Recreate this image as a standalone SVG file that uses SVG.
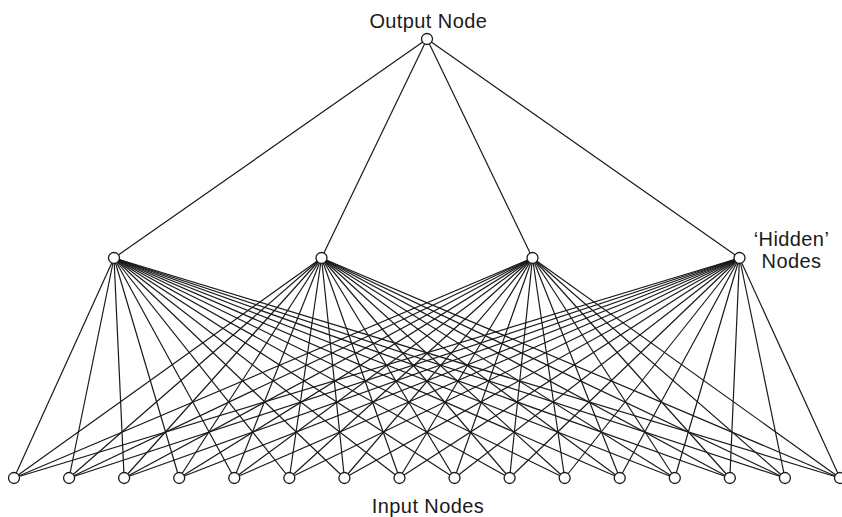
<svg xmlns="http://www.w3.org/2000/svg" width="842" height="517" viewBox="0 0 842 517">
  <style>
    .edge { stroke: #1a1a1a; stroke-width: 1.2; fill: none; }
    .node { fill: #ffffff; stroke: #1a1a1a; stroke-width: 1.3; }
    .label { font-family: "Liberation Sans", Arial, sans-serif; font-size: 20px; letter-spacing: 0.4px; fill: #1a1a1a; text-anchor: middle; }
  </style>
  <rect width="842" height="517" fill="#ffffff"/>

  <!-- connectors: output to hidden, hidden to every input -->
  <g id="connectors">
    <line class="edge" x1="427" y1="39" x2="114" y2="258"/>
    <line class="edge" x1="427" y1="39" x2="321.5" y2="258"/>
    <line class="edge" x1="427" y1="39" x2="532.5" y2="258"/>
    <line class="edge" x1="427" y1="39" x2="739.5" y2="258"/>

    <g id="from-h1">
      <line class="edge" x1="114" y1="258" x2="14" y2="478"/>
      <line class="edge" x1="114" y1="258" x2="69.07" y2="478"/>
      <line class="edge" x1="114" y1="258" x2="124.13" y2="478"/>
      <line class="edge" x1="114" y1="258" x2="179.2" y2="478"/>
      <line class="edge" x1="114" y1="258" x2="234.27" y2="478"/>
      <line class="edge" x1="114" y1="258" x2="289.33" y2="478"/>
      <line class="edge" x1="114" y1="258" x2="344.4" y2="478"/>
      <line class="edge" x1="114" y1="258" x2="399.47" y2="478"/>
      <line class="edge" x1="114" y1="258" x2="454.53" y2="478"/>
      <line class="edge" x1="114" y1="258" x2="509.6" y2="478"/>
      <line class="edge" x1="114" y1="258" x2="564.67" y2="478"/>
      <line class="edge" x1="114" y1="258" x2="619.73" y2="478"/>
      <line class="edge" x1="114" y1="258" x2="674.8" y2="478"/>
      <line class="edge" x1="114" y1="258" x2="729.87" y2="478"/>
      <line class="edge" x1="114" y1="258" x2="784.93" y2="478"/>
      <line class="edge" x1="114" y1="258" x2="840" y2="478"/>
    </g>
    <g id="from-h2">
      <line class="edge" x1="321.5" y1="258" x2="14" y2="478"/>
      <line class="edge" x1="321.5" y1="258" x2="69.07" y2="478"/>
      <line class="edge" x1="321.5" y1="258" x2="124.13" y2="478"/>
      <line class="edge" x1="321.5" y1="258" x2="179.2" y2="478"/>
      <line class="edge" x1="321.5" y1="258" x2="234.27" y2="478"/>
      <line class="edge" x1="321.5" y1="258" x2="289.33" y2="478"/>
      <line class="edge" x1="321.5" y1="258" x2="344.4" y2="478"/>
      <line class="edge" x1="321.5" y1="258" x2="399.47" y2="478"/>
      <line class="edge" x1="321.5" y1="258" x2="454.53" y2="478"/>
      <line class="edge" x1="321.5" y1="258" x2="509.6" y2="478"/>
      <line class="edge" x1="321.5" y1="258" x2="564.67" y2="478"/>
      <line class="edge" x1="321.5" y1="258" x2="619.73" y2="478"/>
      <line class="edge" x1="321.5" y1="258" x2="674.8" y2="478"/>
      <line class="edge" x1="321.5" y1="258" x2="729.87" y2="478"/>
      <line class="edge" x1="321.5" y1="258" x2="784.93" y2="478"/>
      <line class="edge" x1="321.5" y1="258" x2="840" y2="478"/>
    </g>
    <g id="from-h3">
      <line class="edge" x1="532.5" y1="258" x2="14" y2="478"/>
      <line class="edge" x1="532.5" y1="258" x2="69.07" y2="478"/>
      <line class="edge" x1="532.5" y1="258" x2="124.13" y2="478"/>
      <line class="edge" x1="532.5" y1="258" x2="179.2" y2="478"/>
      <line class="edge" x1="532.5" y1="258" x2="234.27" y2="478"/>
      <line class="edge" x1="532.5" y1="258" x2="289.33" y2="478"/>
      <line class="edge" x1="532.5" y1="258" x2="344.4" y2="478"/>
      <line class="edge" x1="532.5" y1="258" x2="399.47" y2="478"/>
      <line class="edge" x1="532.5" y1="258" x2="454.53" y2="478"/>
      <line class="edge" x1="532.5" y1="258" x2="509.6" y2="478"/>
      <line class="edge" x1="532.5" y1="258" x2="564.67" y2="478"/>
      <line class="edge" x1="532.5" y1="258" x2="619.73" y2="478"/>
      <line class="edge" x1="532.5" y1="258" x2="674.8" y2="478"/>
      <line class="edge" x1="532.5" y1="258" x2="729.87" y2="478"/>
      <line class="edge" x1="532.5" y1="258" x2="784.93" y2="478"/>
      <line class="edge" x1="532.5" y1="258" x2="840" y2="478"/>
    </g>
    <g id="from-h4">
      <line class="edge" x1="739.5" y1="258" x2="14" y2="478"/>
      <line class="edge" x1="739.5" y1="258" x2="69.07" y2="478"/>
      <line class="edge" x1="739.5" y1="258" x2="124.13" y2="478"/>
      <line class="edge" x1="739.5" y1="258" x2="179.2" y2="478"/>
      <line class="edge" x1="739.5" y1="258" x2="234.27" y2="478"/>
      <line class="edge" x1="739.5" y1="258" x2="289.33" y2="478"/>
      <line class="edge" x1="739.5" y1="258" x2="344.4" y2="478"/>
      <line class="edge" x1="739.5" y1="258" x2="399.47" y2="478"/>
      <line class="edge" x1="739.5" y1="258" x2="454.53" y2="478"/>
      <line class="edge" x1="739.5" y1="258" x2="509.6" y2="478"/>
      <line class="edge" x1="739.5" y1="258" x2="564.67" y2="478"/>
      <line class="edge" x1="739.5" y1="258" x2="619.73" y2="478"/>
      <line class="edge" x1="739.5" y1="258" x2="674.8" y2="478"/>
      <line class="edge" x1="739.5" y1="258" x2="729.87" y2="478"/>
      <line class="edge" x1="739.5" y1="258" x2="784.93" y2="478"/>
      <line class="edge" x1="739.5" y1="258" x2="840" y2="478"/>
    </g>
  </g>

  <!-- output layer -->
  <g id="output-node">
    <circle class="node" cx="427" cy="39" r="5.5"/>
    <text class="label" x="428.3" y="28.3">Output Node</text>
  </g>

  <!-- hidden layer -->
  <g id="hidden-1"><circle class="node" cx="114" cy="258" r="5.5"/></g>
  <g id="hidden-2"><circle class="node" cx="321.5" cy="258" r="5.5"/></g>
  <g id="hidden-3"><circle class="node" cx="532.5" cy="258" r="5.5"/></g>
  <g id="hidden-4">
    <circle class="node" cx="739.5" cy="258" r="5.5"/>
    <text class="label" x="791.5" y="246">‘Hidden’</text>
    <text class="label" x="791.5" y="268.3">Nodes</text>
  </g>

  <!-- input layer -->
  <g id="input-1"><circle class="node" cx="14" cy="478" r="5.5"/></g>
  <g id="input-2"><circle class="node" cx="69.07" cy="478" r="5.5"/></g>
  <g id="input-3"><circle class="node" cx="124.13" cy="478" r="5.5"/></g>
  <g id="input-4"><circle class="node" cx="179.2" cy="478" r="5.5"/></g>
  <g id="input-5"><circle class="node" cx="234.27" cy="478" r="5.5"/></g>
  <g id="input-6"><circle class="node" cx="289.33" cy="478" r="5.5"/></g>
  <g id="input-7"><circle class="node" cx="344.4" cy="478" r="5.5"/></g>
  <g id="input-8"><circle class="node" cx="399.47" cy="478" r="5.5"/></g>
  <g id="input-9"><circle class="node" cx="454.53" cy="478" r="5.5"/></g>
  <g id="input-10"><circle class="node" cx="509.6" cy="478" r="5.5"/></g>
  <g id="input-11"><circle class="node" cx="564.67" cy="478" r="5.5"/></g>
  <g id="input-12"><circle class="node" cx="619.73" cy="478" r="5.5"/></g>
  <g id="input-13"><circle class="node" cx="674.8" cy="478" r="5.5"/></g>
  <g id="input-14"><circle class="node" cx="729.87" cy="478" r="5.5"/></g>
  <g id="input-15"><circle class="node" cx="784.93" cy="478" r="5.5"/></g>
  <g id="input-16"><circle class="node" cx="840" cy="478" r="5.5"/></g>
  <g id="input-label">
    <text class="label" x="428" y="513.3">Input Nodes</text>
  </g>
</svg>
